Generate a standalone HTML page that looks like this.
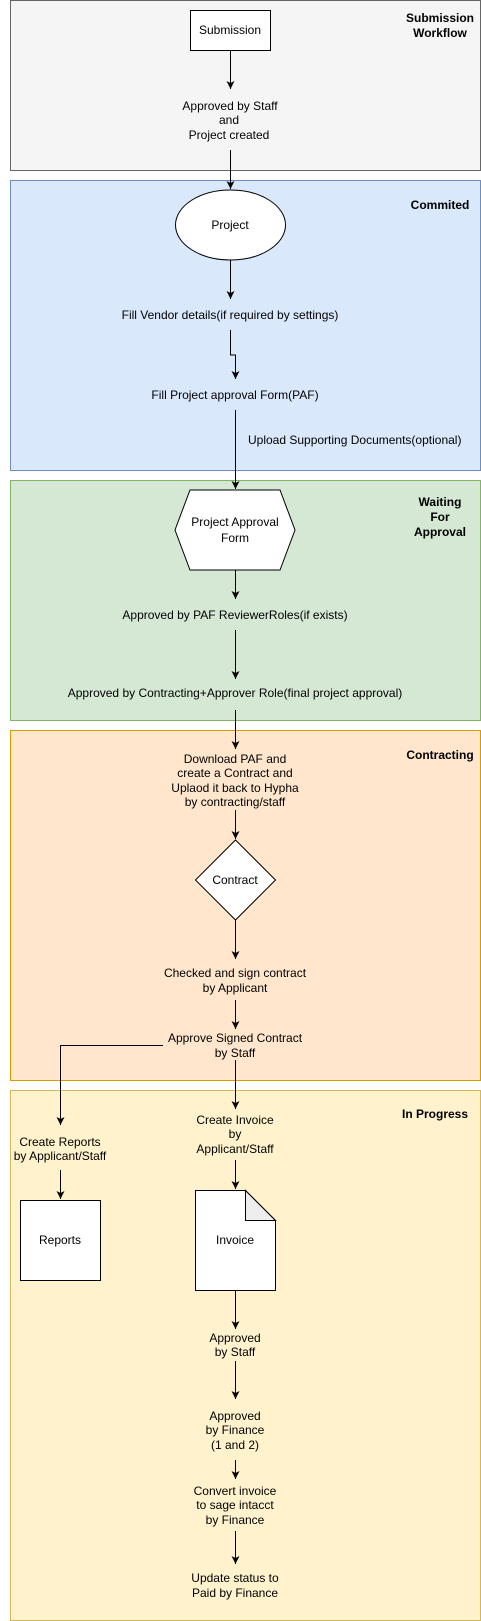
<!DOCTYPE html>
<html><head><meta charset="utf-8"><style>
html,body{margin:0;padding:0;background:#fff}
svg{display:block}
text{font-family:"Liberation Sans",Arial,sans-serif;font-size:12px;fill:#000}
.b{font-weight:bold}
</style></head><body>
<svg width="481" height="1621" viewBox="0 0 481 1621" xmlns="http://www.w3.org/2000/svg">
<defs>
<marker id="a" markerWidth="10" markerHeight="10" refX="8" refY="4" orient="auto" markerUnits="userSpaceOnUse">
<path d="M0,0 L8,4 L0,8 L2,4 Z" fill="#000"/>
</marker>
</defs>
<!-- containers -->
<rect x="10.5" y="0.5" width="470" height="170" fill="#f5f5f5" stroke="#666"/>
<rect x="10.5" y="180.5" width="470" height="290" fill="#dae8fc" stroke="#6c8ebf"/>
<rect x="10.5" y="480.5" width="470" height="240" fill="#d5e8d4" stroke="#82b366"/>
<rect x="10.5" y="730.5" width="470" height="350" fill="#ffe6cc" stroke="#d79b00"/>
<rect x="10.5" y="1090.5" width="470" height="530" fill="#fff2cc" stroke="#d6b656"/>

<g text-anchor="middle">
<text class="b" x="440" y="22">Submission</text>
<text class="b" x="440" y="37">Workflow</text>
<text class="b" x="440" y="209">Commited</text>
<text class="b" x="440" y="506">Waiting</text>
<text class="b" x="440" y="521">For</text>
<text class="b" x="440" y="536">Approval</text>
<text class="b" x="440" y="759">Contracting</text>
<text class="b" x="435" y="1118">In Progress</text>
</g>

<g fill="none" stroke="#000" stroke-width="1">
<rect x="190.5" y="10.5" width="80" height="40" fill="#fff"/>
<ellipse cx="230.5" cy="225" rx="55" ry="35" fill="#fff"/>
<polygon points="190,490 280,490 295,530 280,570 190,570 175,530" fill="#fff"/>
<polygon points="235.5,840 275.5,880 235.5,920 195.5,880" fill="#fff"/>
<rect x="20.5" y="1200.5" width="80" height="80" fill="#fff"/>
<path d="M195.5,1190.5 L245.5,1190.5 L275.5,1220.5 L275.5,1290.5 L195.5,1290.5 Z" fill="#fff"/>
<path d="M245.5,1190.5 L245.5,1220.5 L275.5,1220.5 Z" fill="#eee"/>

<g marker-end="url(#a)">
<path d="M230.5,51 V89"/>
<path d="M230.5,150 V189"/>
<path d="M230.5,260 V299"/>
<path d="M230.5,330 V355 H235.5 V379"/>
<path d="M235.5,410 V489"/>
<path d="M235.5,570 V599"/>
<path d="M235.5,630 V679"/>
<path d="M235.5,710 V749"/>
<path d="M235.5,810 V839"/>
<path d="M235.5,920 V959"/>
<path d="M235.5,1000 V1029"/>
<path d="M163,1045.5 H60.5 V1125"/>
<path d="M235.5,1060 V1109"/>
<path d="M60.5,1170 V1199"/>
<path d="M235.5,1160 V1189"/>
<path d="M235.5,1291 V1329"/>
<path d="M235.5,1361 V1399"/>
<path d="M235.5,1460 V1479"/>
<path d="M235.5,1531 V1564"/>
</g>
</g>

<g text-anchor="middle">
<text x="230" y="34">Submission</text>
<text x="230" y="110">Approved by Staff</text>
<text x="229" y="124">and</text>
<text x="229" y="139">Project created</text>
<text x="230" y="229">Project</text>
<text x="230" y="319">Fill Vendor details(if required by settings)</text>
<text x="235" y="399">Fill Project approval Form(PAF)</text>
<text x="235" y="526">Project Approval</text>
<text x="235" y="542">Form</text>
<text x="235" y="619">Approved by PAF ReviewerRoles(if exists)</text>
<text x="235" y="697">Approved by Contracting+Approver Role(final project approval)</text>
<text x="235" y="763">Download PAF and</text>
<text x="235" y="777">create a Contract and</text>
<text x="235" y="792">Uplaod it back to Hypha</text>
<text x="235" y="806">by contracting/staff</text>
<text x="235" y="884">Contract</text>
<text x="235" y="977">Checked and sign contract</text>
<text x="235" y="992">by Applicant</text>
<text x="235" y="1042">Approve Signed Contract</text>
<text x="235" y="1057">by Staff</text>
<text x="235" y="1124">Create Invoice</text>
<text x="235" y="1138">by</text>
<text x="235" y="1153">Applicant/Staff</text>
<text x="60" y="1146">Create Reports</text>
<text x="60" y="1160">by Applicant/Staff</text>
<text x="60" y="1244">Reports</text>
<text x="235" y="1244">Invoice</text>
<text x="235" y="1342">Approved</text>
<text x="235" y="1356">by Staff</text>
<text x="235" y="1420">Approved</text>
<text x="235" y="1434">by Finance</text>
<text x="235" y="1449">(1 and 2)</text>
<text x="235" y="1495">Convert invoice</text>
<text x="235" y="1509">to sage intacct</text>
<text x="235" y="1524">by Finance</text>
<text x="235" y="1582">Update status to</text>
<text x="235" y="1597">Paid by Finance</text>
</g>
<text x="248" y="444">Upload Supporting Documents(optional)</text>
</svg>
</body></html>
